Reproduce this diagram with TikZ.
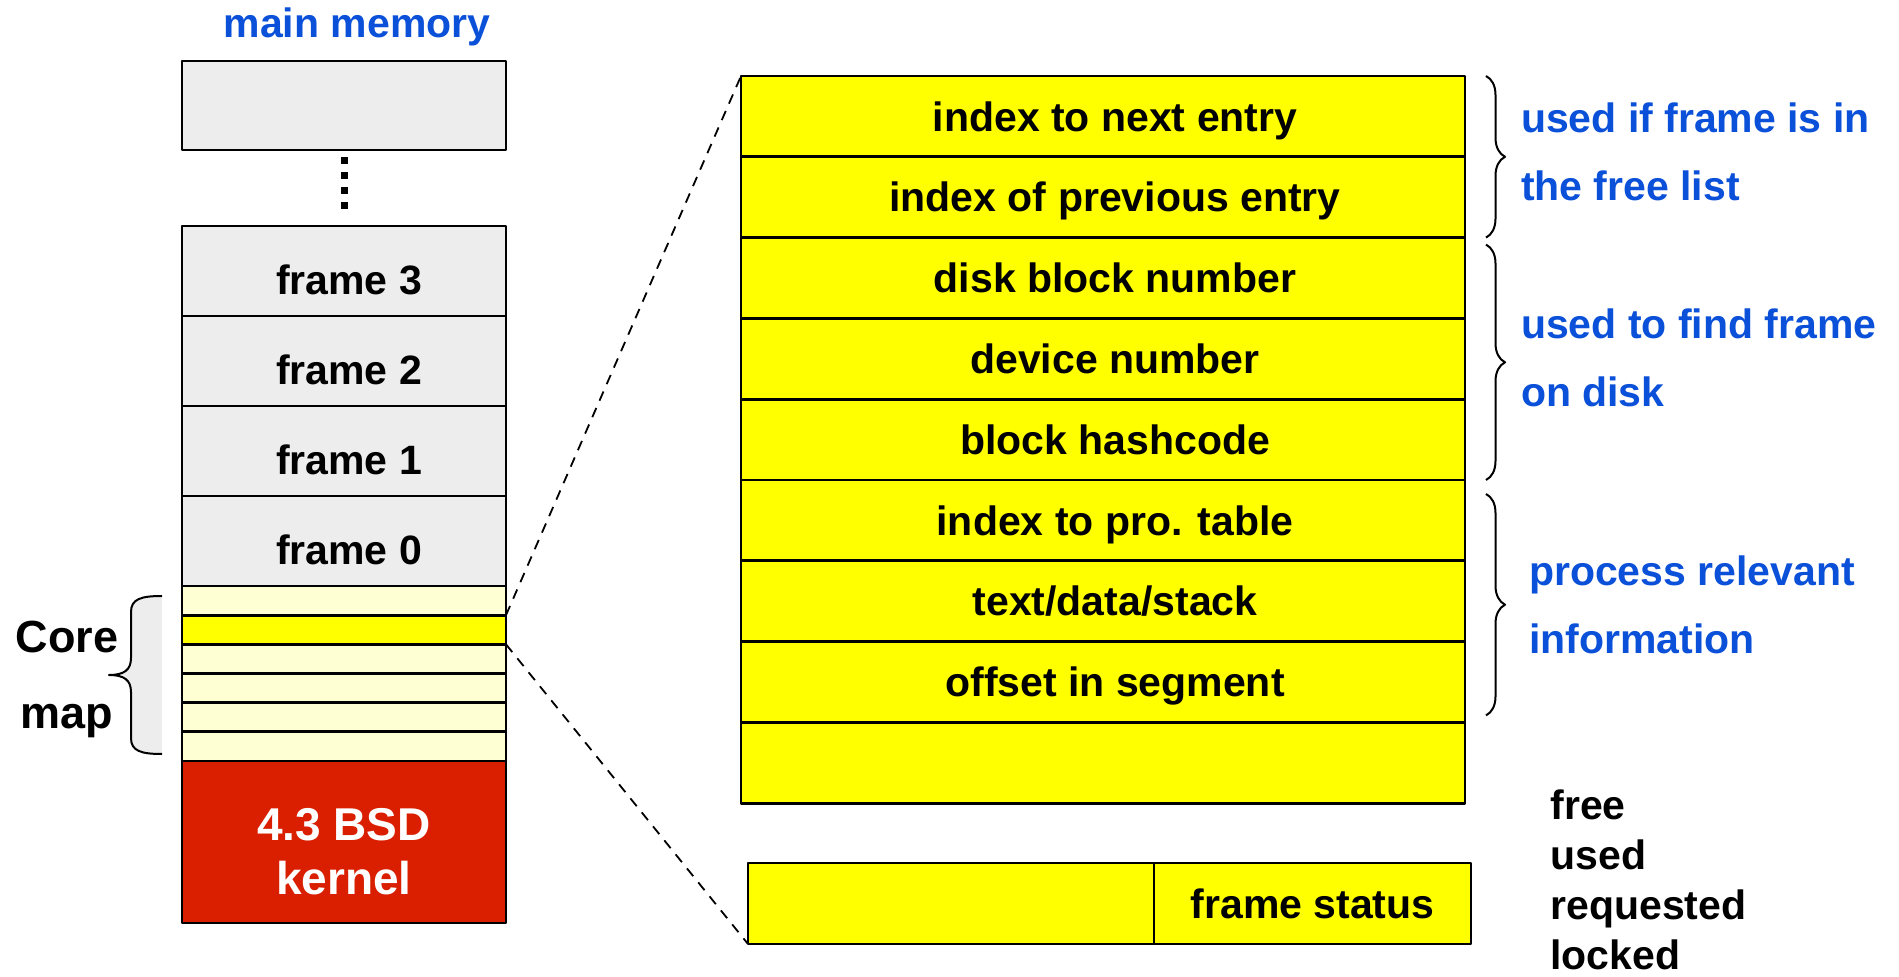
\documentclass[tikz,border=0pt]{standalone}
\usepackage{fontspec}
\setmainfont{Liberation Sans}
\usetikzlibrary{positioning,decorations.pathreplacing}
\definecolor{memgray}{HTML}{EDEDED}
\definecolor{mapyellow}{HTML}{FFFFD4}
\definecolor{entryyellow}{HTML}{FFFF00}
\definecolor{kernelred}{HTML}{D91F00}
\definecolor{noteblue}{HTML}{0A50D8}
\tikzset{
  every picture/.style={line join=round},
  cellfont/.style={font=\bfseries\fontsize{20.5}{24}\selectfont},
  memcell/.style={draw, line width=1.4pt, fill=memgray, minimum width=162pt, minimum height=45pt, inner sep=0pt, outer sep=0pt, cellfont, text height=24pt, text depth=0pt, execute at begin node=\hspace*{5pt}},
  mapcell/.style={draw, line width=1.4pt, fill=mapyellow, minimum width=162pt, minimum height=14.58pt, inner sep=0pt, outer sep=0pt},
  kernelbox/.style={draw, line width=1.4pt, fill=kernelred, minimum width=162pt, minimum height=81pt, inner sep=0pt, outer sep=0pt, text=white, align=center, font=\bfseries\fontsize{23}{27}\selectfont},
  entry/.style={draw, line width=1.4pt, fill=entryyellow, minimum width=362pt, minimum height=40.4pt, inner sep=0pt, outer sep=0pt, cellfont, text height=14.7pt, text depth=0pt},
  tableentry/.style={entry, execute at begin node=\hspace*{12pt}},
  gapdots/.style={line width=3.5pt, dash pattern=on 3.5pt off 4pt, shorten <=3.5pt, shorten >=7.5pt},
  zoomline/.style={line width=0.9pt, dash pattern=on 5pt off 4pt},
  rbrace/.style={decorate, decoration={brace, amplitude=9.5pt}, line width=1pt},
  note/.style={font=\bfseries\fontsize{20.5}{34}\selectfont, text=noteblue, align=left, inner sep=0pt},
}

\begin{document}
\begin{tikzpicture}[x=0.5pt, y=-0.5pt]
\useasboundingbox (0,0) rectangle (1899,977);
% main memory column
\node[cellfont, text=noteblue] (memtitle) at (357,27) {main memory};
\node[memcell, minimum height=44.5pt] (top) at (344,105.5) {};
\node[memcell] (f3) at (344,271) {frame 3};
\node[memcell, below=0pt of f3] (f2) {frame 2};
\node[memcell, below=0pt of f2] (f1) {frame 1};
\node[memcell, below=0pt of f1] (f0) {frame 0};
\draw[gapdots] (top.south) -- (f3.north);
\node[mapcell, below=0pt of f0] (cm1) {};
\node[mapcell, below=0pt of cm1, fill=entryyellow] (cm2) {};
\node[mapcell, below=0pt of cm2] (cm3) {};
\node[mapcell, below=0pt of cm3] (cm4) {};
\node[mapcell, below=0pt of cm4] (cm5) {};
\node[mapcell, below=0pt of cm5] (cm6) {};
\node[kernelbox, below=0pt of cm6] (kernel) {\mbox{}\\[-1pt]4.3 BSD\\kernel};
% core map brace
\draw[line width=1pt, fill=memgray] (162,596) .. controls (141,596) and (131,599) .. (131,612) -- (131,658)
  .. controls (131,670) and (124,675) .. (109,675) .. controls (124,675) and (131,680) .. (131,692)
  -- (131,738) .. controls (131,751) and (141,754) .. (162,754);
\node[font=\bfseries\fontsize{22.5}{38}\selectfont, align=center, inner sep=0pt] (corelbl) at (67,679) {Core\\map};
% core map entry
\node[tableentry] (e1) at (1103,116.4) {index to next entry};
\node[tableentry, below=0pt of e1] (e2) {index of previous entry};
\node[tableentry, below=0pt of e2] (e3) {disk block number};
\node[tableentry, below=0pt of e3] (e4) {device number};
\node[tableentry, below=0pt of e4] (e5) {block hashcode};
\node[tableentry, below=0pt of e5] (e6) {index to pro. table};
\node[tableentry, below=0pt of e6] (e7) {text/data/stack};
\node[tableentry, below=0pt of e7] (e8) {offset in segment};
\node[entry, below=0pt of e8] (e9) {};
\node[entry, minimum width=203pt, minimum height=40.5pt] (statusL) at (951,903.5) {};
\node[entry, minimum width=158.5pt, minimum height=40.5pt, right=0pt of statusL] (statusR) {frame status};
\draw[zoomline] (cm2.north east) -- (e1.north west);
\draw[zoomline] (cm2.south east) -- (statusL.south west);
% notes
\draw[rbrace] ([xshift=10.5pt]e1.north east) -- ([xshift=10.5pt]e2.south east)
  node[note, midway, right=17pt, yshift=2.5pt] (freenote) {used if frame is in\\the free list};
\draw[rbrace] ([xshift=10.5pt,yshift=-3.5pt]e3.north east) -- ([xshift=10.5pt]e5.south east)
  node[note, midway, right=17pt, yshift=2pt] (disknote) {used to find frame\\on disk};
\draw[rbrace] ([xshift=10.5pt,yshift=-7pt]e6.north east) -- ([xshift=10.5pt,yshift=3.5pt]e8.south east)
  node[note, midway, right=21pt] (procnote) {process relevant\\information};
\node[font=\bfseries\fontsize{20.5}{25}\selectfont, align=left, inner sep=0pt, right=39.5pt of statusR.east, yshift=12pt] (statlist) {free\\used\\requested\\locked};
\end{tikzpicture}
\end{document}
